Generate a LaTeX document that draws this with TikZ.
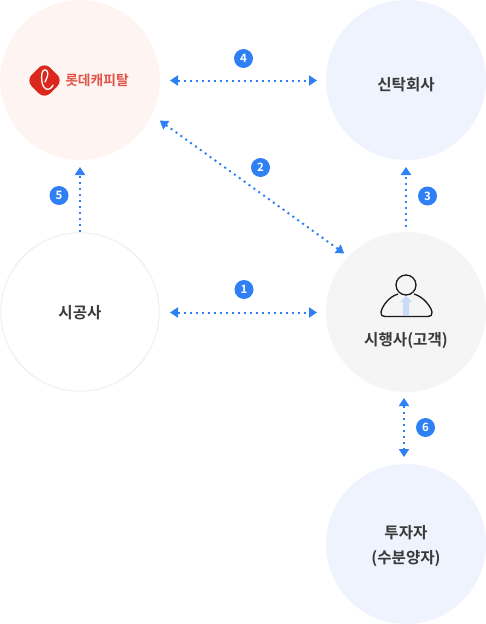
\documentclass[tikz,border=0pt]{standalone}
\usepackage{fontspec}
\setmainfont{Noto Sans CJK KR Medium}[BoldFont={Noto Sans CJK KR Bold}]
\usetikzlibrary{arrows.meta}
\definecolor{arrowblue}{HTML}{2F80F5}
\definecolor{txt}{HTML}{3A3A3A}
\definecolor{lotte}{HTML}{DA291C}
\definecolor{pinkbg}{HTML}{FEF5F3}
\definecolor{bluebg}{HTML}{EEF3FE}
\definecolor{greybg}{HTML}{F5F5F5}
\definecolor{ringgrey}{HTML}{ECECEC}
\definecolor{tieblue}{HTML}{C8DCF8}
\tikzset{
 party/.style={circle,minimum size=160pt,inner sep=0pt},
 partytext/.style={inner sep=0pt,align=center,font=\fontsize{15.6}{25}\selectfont\bfseries,text=txt},
 flowline/.style={draw=arrowblue,line width=2pt,dash pattern=on 2pt off 4pt},
 flow/.style={flowline,{Triangle[length=8pt,width=10pt,fill=arrowblue,sep=1pt]}-{Triangle[length=8pt,width=10pt,fill=arrowblue,sep=1pt]}},
 flowone/.style={flowline,-{Triangle[length=8pt,width=10pt,fill=arrowblue,sep=1pt]}},
 badge/.style={circle,fill=arrowblue,minimum size=19pt,inner sep=0pt,text=white,font=\fontsize{11.5}{11.5}\selectfont\bfseries}
}
\begin{document}
\begin{tikzpicture}[x=1pt,y=-1pt]
\useasboundingbox (0,0) rectangle (486,624);
\node[party,fill=pinkbg] (lc) at (80,80) {};
\node[party,fill=bluebg] (trust) at (406,80) {};
\node[party,draw=ringgrey,line width=.8pt,fill=white,minimum size=158.5pt] (builder) at (80,312) {};
\node[party,fill=greybg] (client) at (406,312) {};
\node[party,fill=bluebg] (investor) at (406,544) {};
\node[partytext] (trustlabel) at (406,85) {신탁회사};
\node[partytext] (builderlabel) at (80,312.5) {시공사};
\node[partytext] (clientlabel) at (406,341) {시행사(고객)};
\node[partytext] (investorlabel) at (406,546) {투자자\\(수분양자)};
% logo
\fill[lotte,rounded corners=8pt] (44.5,62) -- (63,80.5) -- (44.5,99) -- (26,80.5) -- cycle;
\draw[white,line width=1.3pt,line cap=round] (45,82) .. controls (47,78) and (48.5,74) .. (47.5,72) .. controls (46.5,69) and (43,69) .. (42,73) .. controls (41,78) and (41.5,87) .. (46,89) .. controls (49,90) and (52,88) .. (53,85);
\node[text=lotte!80!white,font=\fontsize{13.8}{14}\selectfont\bfseries,inner sep=0pt] (logotext) at (97,80) {롯데캐피탈};
% person
\fill[tieblue] (400,302) -- (406,296) -- (412,302) -- (409,302) -- (409,315) -- (403,315) -- (403,302) -- cycle;
\draw[black!90,line width=1.3pt,line join=round] (398,294) .. controls (388,297) and (382,307) .. (381,312) .. controls (380.5,315) and (382,316.5) .. (385,316.5) -- (428,316.5) .. controls (431,316.5) and (432.5,315) .. (432,312) .. controls (431,307) and (424,297) .. (414,294);
\draw[black!90,line width=1.3pt] (406,285) circle (10);
% connectors
\coordinate (a4l) at (169,80.5); \coordinate (a4r) at (318,80.5);
\coordinate (a1l) at (169,312.5); \coordinate (a1r) at (318,312.5);
\coordinate (a2a) at (159,120); \coordinate (a2b) at (345,254);
\coordinate (a5a) at (80,232); \coordinate (a5b) at (80,166);
\coordinate (a3a) at (406,227); \coordinate (a3b) at (406,166);
\coordinate (a6a) at (404,397); \coordinate (a6b) at (404,458);
\draw[flow] (a4l) -- (a4r);
\draw[flow] (a1l) -- (a1r);
\draw[flow] (a2a) -- (a2b);
\draw[flowone] (a5a) -- (a5b);
\draw[flowone] (a3a) -- (a3b);
\draw[flow] (a6a) -- (a6b);
\node[badge] (n1) at (244,289.5) {1};
\node[badge] (n2) at (260.5,167.5) {2};
\node[badge] (n3) at (427.5,196) {3};
\node[badge] (n4) at (243.5,58.5) {4};
\node[badge] (n5) at (59,195.5) {5};
\node[badge] (n6) at (425.5,427.5) {6};
\end{tikzpicture}
\end{document}
